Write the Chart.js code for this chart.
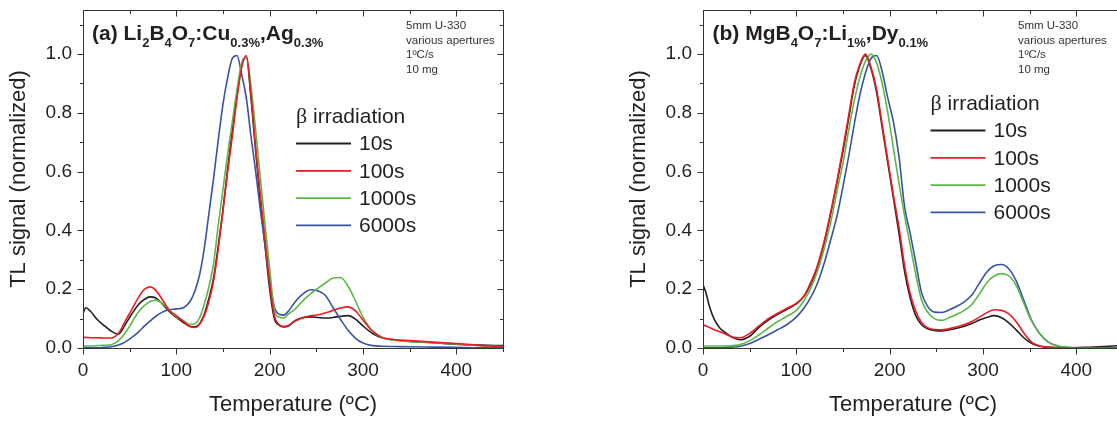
<!DOCTYPE html>
<html>
<head>
<meta charset="utf-8">
<script src="https://cdn.jsdelivr.net/npm/chart.js@4.4.0/dist/chart.umd.min.js"></script>
<style>
  html, body { margin: 0; padding: 0; background: #fff; overflow: hidden; width: 1117px; height: 422px; }
  .panel { position: absolute; top: 0; width: 520px; height: 422px; }
  #panelA { left: 0; }
  #panelB { left: 620px; }
</style>
</head>
<body>
<div class="panel" id="panelA"><canvas id="chartA"></canvas></div>
<div class="panel" id="panelB"><canvas id="chartB"></canvas></div>
<script>
// ---- data ----
const doseLabels = ['10s', '100s', '1000s', '6000s'];
const doseColors = ['#231f20', '#ed1c24', '#5cb846', '#3853a4'];

// panel (a) Li2B4O7:Cu,Ag
const tempA = [0, 3, 8, 15, 22, 30, 38, 45, 52, 60, 66, 72, 78, 85, 92, 100, 108, 115, 120, 125,
  130, 135, 140, 145, 150, 155, 160, 165, 170, 175, 180, 185, 190, 195, 200, 205, 210, 215, 220, 228,
  236, 244, 252, 260, 268, 276, 284, 292, 300, 310, 320, 335, 350, 375, 400, 425, 450];
const a10s = [0.118, 0.137, 0.125, 0.098, 0.078, 0.058, 0.047, 0.078, 0.115, 0.150, 0.166, 0.174, 0.170, 0.150, 0.125, 0.104, 0.086, 0.073, 0.072, 0.083,
  0.115, 0.17, 0.24, 0.35, 0.47, 0.61, 0.74, 0.86, 0.96, 0.99, 0.85, 0.67, 0.50, 0.35, 0.20, 0.10, 0.078, 0.072, 0.075, 0.095,
  0.104, 0.106, 0.104, 0.102, 0.104, 0.108, 0.110, 0.098, 0.075, 0.050, 0.035, 0.027, 0.022, 0.018, 0.013, 0.010, 0.008];
const a100s = [0.035, 0.036, 0.035, 0.035, 0.034, 0.034, 0.050, 0.090, 0.130, 0.175, 0.200, 0.208, 0.196, 0.165, 0.130, 0.110, 0.090, 0.072, 0.070, 0.082,
  0.11, 0.16, 0.23, 0.34, 0.47, 0.60, 0.72, 0.85, 0.955, 0.995, 0.86, 0.68, 0.52, 0.37, 0.22, 0.11, 0.08, 0.073, 0.077, 0.093,
  0.103, 0.110, 0.113, 0.120, 0.128, 0.136, 0.140, 0.126, 0.095, 0.058, 0.037, 0.028, 0.025, 0.020, 0.015, 0.009, 0.005];
const a1000s = [0.007, 0.007, 0.007, 0.008, 0.009, 0.011, 0.025, 0.050, 0.085, 0.125, 0.145, 0.158, 0.163, 0.152, 0.130, 0.107, 0.092, 0.080, 0.083, 0.103,
  0.15, 0.21, 0.29, 0.42, 0.54, 0.66, 0.77, 0.88, 0.97, 0.99, 0.89, 0.74, 0.58, 0.42, 0.27, 0.13, 0.105, 0.102, 0.115, 0.135,
  0.162, 0.185, 0.204, 0.222, 0.238, 0.240, 0.210, 0.160, 0.105, 0.058, 0.036, 0.026, 0.022, 0.018, 0.013, 0.008, 0.005];
const a6000s = [0.001, 0.001, 0.001, 0.001, 0.002, 0.004, 0.010, 0.020, 0.035, 0.056, 0.075, 0.092, 0.108, 0.122, 0.130, 0.133, 0.138, 0.160, 0.195, 0.25,
  0.34, 0.46, 0.58, 0.71, 0.83, 0.92, 0.985, 0.995, 0.93, 0.85, 0.72, 0.60, 0.47, 0.35, 0.23, 0.14, 0.115, 0.112, 0.125, 0.160,
  0.185, 0.198, 0.194, 0.178, 0.137, 0.097, 0.060, 0.033, 0.017, 0.008, 0.006, 0.005, 0.004, 0.003, 0.002, 0.001, 0.001];

// panel (b) MgB4O7:Li,Dy
const tempB = [0, 3, 7, 12, 18, 25, 32, 40, 50, 60, 70, 80, 90, 100, 108, 115, 122, 130, 137, 144,
  150, 156, 162, 168, 174, 180, 186, 192, 198, 204, 210, 216, 222, 228, 234, 240, 248, 256, 264, 272,
  280, 288, 296, 304, 312, 320, 328, 336, 344, 352, 360, 370, 380, 395, 410, 430, 450];
const b10s = [0.215, 0.19, 0.14, 0.098, 0.068, 0.050, 0.036, 0.028, 0.040, 0.070, 0.095, 0.115, 0.132, 0.150, 0.175, 0.215, 0.27, 0.36, 0.46, 0.57,
  0.67, 0.78, 0.89, 0.96, 0.995, 0.95, 0.87, 0.75, 0.63, 0.51, 0.39, 0.26, 0.17, 0.11, 0.08, 0.066, 0.060, 0.058, 0.062, 0.067,
  0.074, 0.083, 0.095, 0.104, 0.110, 0.103, 0.085, 0.060, 0.034, 0.016, 0.007, 0.002, 0.001, 0.001, 0.002, 0.005, 0.009];
const b100s = [0.078, 0.075, 0.070, 0.062, 0.055, 0.046, 0.036, 0.035, 0.050, 0.075, 0.100, 0.118, 0.135, 0.152, 0.176, 0.22, 0.275, 0.365, 0.465, 0.575,
  0.68, 0.79, 0.90, 0.965, 1.0, 0.955, 0.88, 0.76, 0.64, 0.52, 0.41, 0.28, 0.185, 0.125, 0.088, 0.070, 0.063, 0.062, 0.066, 0.072,
  0.080, 0.090, 0.105, 0.120, 0.130, 0.128, 0.115, 0.088, 0.050, 0.020, 0.008, 0.003, 0.001, 0, 0, 0, 0];
const b1000s = [0.007, 0.007, 0.007, 0.007, 0.007, 0.007, 0.008, 0.012, 0.025, 0.045, 0.068, 0.090, 0.108, 0.128, 0.160, 0.200, 0.255, 0.34, 0.43, 0.54,
  0.63, 0.74, 0.84, 0.92, 0.975, 1.0, 0.97, 0.90, 0.80, 0.68, 0.56, 0.45, 0.35, 0.25, 0.165, 0.125, 0.100, 0.094, 0.104, 0.115,
  0.128, 0.148, 0.183, 0.222, 0.245, 0.253, 0.245, 0.210, 0.150, 0.092, 0.052, 0.020, 0.007, 0.001, 0, 0, 0];
const b6000s = [0.001, 0.001, 0.001, 0.001, 0.001, 0.002, 0.003, 0.006, 0.015, 0.030, 0.045, 0.062, 0.080, 0.105, 0.135, 0.170, 0.215, 0.29, 0.37, 0.455,
  0.55, 0.65, 0.76, 0.86, 0.935, 0.985, 0.995, 0.94, 0.85, 0.77, 0.65, 0.48, 0.39, 0.29, 0.19, 0.145, 0.122, 0.121, 0.130, 0.142,
  0.157, 0.180, 0.220, 0.258, 0.280, 0.284, 0.268, 0.225, 0.160, 0.095, 0.052, 0.020, 0.007, 0.001, 0, 0, 0];

const notes = ['5mm U-330', 'various apertures', '1\u00baC/s', '10 mg'];
const titleA = [['(a) Li', 0], ['2', 1], ['B', 0], ['4', 1], ['O', 0], ['7', 1], [':Cu', 0], ['0.3%', 1], [',Ag', 0], ['0.3%', 1]];
const titleB = [['(b) MgB', 0], ['4', 1], ['O', 0], ['7', 1], [':Li', 0], ['1%', 1], [',Dy', 0], ['0.1%', 1]];

const FONT = '"Liberation Sans", Arial, Helvetica, sans-serif';
const INK = '#231f20';

// frame with in/out ticks, title, notes and legend
const panelDecor = {
    id: 'panelDecor',
    afterDraw(chart, args, o) {
        const { ctx, chartArea: a, scales: { x, y } } = chart;
        ctx.save();
        ctx.strokeStyle = '#333';
        ctx.lineWidth = 1;
        const L = Math.round(a.left) + 0.5, R = Math.round(a.right) + 0.5;
        const T = Math.round(a.top) + 0.5, B = Math.round(a.bottom) + 0.5;
        ctx.strokeRect(L, T, R - L, B - T);

        ctx.beginPath();
        const xStep = x.ticks[1].value - x.ticks[0].value;
        for (let t = x.min; t <= x.max + 1e-6; t += xStep / 2) {
            const px = Math.round(x.getPixelForValue(t)) + 0.5;
            const len = Math.abs(t / xStep - Math.round(t / xStep)) < 1e-6 ? 6 : 3.5;
            ctx.moveTo(px, B); ctx.lineTo(px, B + len);
            ctx.moveTo(px, T); ctx.lineTo(px, T + len);
        }
        const yStep = y.ticks[1].value - y.ticks[0].value;
        for (let v = y.min; v <= y.max + 1e-6; v += yStep / 2) {
            const py = Math.round(y.getPixelForValue(v)) + 0.5;
            const len = Math.abs(v / yStep - Math.round(v / yStep)) < 1e-6 ? 6 : 3.5;
            ctx.moveTo(L, py); ctx.lineTo(L - len, py);
            ctx.moveTo(R, py); ctx.lineTo(R - len, py);
        }
        ctx.stroke();

        // title with subscripts
        ctx.fillStyle = INK;
        ctx.textBaseline = 'alphabetic';
        let tx = a.left + o.titleDx;
        o.title.forEach(([txt, sub]) => {
            ctx.font = `bold ${sub ? 13 : 21}px ${FONT}`;
            ctx.fillText(txt, tx, sub ? 46.5 : 39.5);
            tx += ctx.measureText(txt).width;
        });

        // conditions note
        ctx.fillStyle = '#333';
        ctx.font = `11.5px ${FONT}`;
        notes.forEach((n, i) => ctx.fillText(n, a.left + o.noteDx, 29 + i * 14.6));

        // legend
        const lx = a.left + o.legendDx, ly = o.legendY;
        ctx.fillStyle = INK;
        ctx.textBaseline = 'middle';
        ctx.font = `22px "Liberation Serif", serif`;
        ctx.fillText('\u03b2', lx, ly);
        const bw = ctx.measureText('\u03b2').width;
        ctx.font = `21px ${FONT}`;
        ctx.fillText(' irradiation', lx + bw, ly);
        chart.data.datasets.forEach((ds, i) => {
            const yy = ly + 26.5 + i * 27.3;
            ctx.strokeStyle = ds.borderColor;
            ctx.lineWidth = 1.8;
            ctx.beginPath();
            ctx.moveTo(lx, yy); ctx.lineTo(lx + 55, yy);
            ctx.stroke();
            ctx.fillText(ds.label, lx + 63, yy + 1);
        });
        ctx.restore();
    }
};

function makeChart(id, temps, series, decor) {
    const order = [3, 0, 1, 2];
    return new Chart(document.getElementById(id), {
        type: 'line',
        data: {
            datasets: series.map((vals, i) => ({
                label: doseLabels[i],
                data: temps.map((t, j) => ({ x: t, y: vals[j] })),
                borderColor: doseColors[i],
                borderWidth: 1.6,
                pointRadius: 0,
                fill: false,
                cubicInterpolationMode: 'monotone',
                order: order[i]
            }))
        },
        options: {
            responsive: true,
            maintainAspectRatio: false,
            animation: false,
            layout: { padding: { top: 10, right: 17, left: 0, bottom: 0 } },
            plugins: {
                legend: { display: false },
                tooltip: { enabled: false },
                panelDecor: decor
            },
            scales: {
                x: {
                    type: 'linear',
                    min: 0,
                    max: 450,
                    afterFit: s => { s.height = 74; s.paddingLeft = 0; s.paddingRight = 0; },
                    grid: { display: false, drawTicks: false },
                    border: { display: false },
                    ticks: { stepSize: 100, includeBounds: false, padding: 11, maxRotation: 0, color: INK, font: { family: FONT, size: 19 } },
                    title: { display: true, text: 'Temperature (\u00baC)', color: INK, font: { family: FONT, size: 22 }, padding: { top: 0, bottom: 4 } }
                },
                y: {
                    min: 0,
                    max: 1.15,
                    afterFit: s => { s.width = 83; s.paddingTop = 0; s.paddingBottom = 0; },
                    grid: { display: false, drawTicks: false },
                    border: { display: false },
                    ticks: { stepSize: 0.2, includeBounds: false, padding: 11, color: INK, font: { family: FONT, size: 19 }, callback: v => v.toFixed(1) },
                    title: { display: true, text: 'TL signal (normalized)', color: INK, font: { family: FONT, size: 22 }, padding: { top: 6, bottom: 0 } }
                }
            }
        },
        plugins: [panelDecor]
    });
}

makeChart('chartA', tempA, [a10s, a100s, a1000s, a6000s],
    { title: titleA, titleDx: 9, noteDx: 323, legendDx: 213, legendY: 117 });
makeChart('chartB', tempB, [b10s, b100s, b1000s, b6000s],
    { title: titleB, titleDx: 9.5, noteDx: 315, legendDx: 227.5, legendY: 104 });
</script>
</body>
</html>
